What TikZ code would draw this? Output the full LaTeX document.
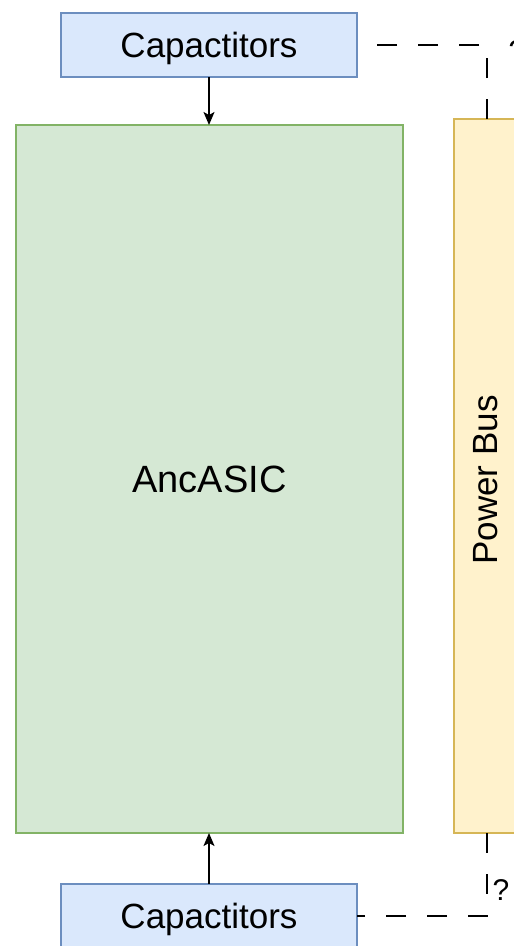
\documentclass[tikz,border=0pt]{standalone}
\usepackage{fontspec}
\setmainfont{Liberation Sans}
\usetikzlibrary{arrows.meta}
\definecolor{capfill}{HTML}{DAE8FC}
\definecolor{capline}{HTML}{6C8EBF}
\definecolor{asicfill}{HTML}{D5E8D4}
\definecolor{asicline}{HTML}{82B366}
\definecolor{busfill}{HTML}{FFF2CC}
\definecolor{busline}{HTML}{D6B656}
\tikzset{
  box/.style={draw, line width=1.3pt, inner sep=0pt, outer sep=0pt,
    font=\fontsize{35}{42}\selectfont},
  capbox/.style={box, fill=capfill, draw=capline, minimum width=296pt, minimum height=64pt,
    text depth=0pt},
  asicbox/.style={box, fill=asicfill, draw=asicline, minimum width=387pt, minimum height=708pt,
    font=\fontsize{38}{46}\selectfont},
  busbox/.style={box, fill=busfill, draw=busline, minimum width=66pt, minimum height=714pt},
  arr/.style={draw, line width=1.4pt, -{Stealth[length=13pt,width=11pt,inset=3pt]}},
  dashline/.style={draw, line width=2pt, dash pattern=on 20pt off 21pt},
  qmark/.style={font=\fontsize{30}{36}\selectfont, inner sep=0pt}
}
\begin{document}
\begin{tikzpicture}[x=1pt,y=-1pt]
  \useasboundingbox (0,0) rectangle (514,946);
  % blocks
  \node[capbox] (capT) at (209,45) {Capactitors};
  \node[asicbox] (asic) at (209.5,479) {AncASIC};
  \node[busbox] (bus) at (487,476) {};
  \node[rotate=90, font=\fontsize{35}{42}\selectfont, inner sep=0pt] (bustext) at (486,480) {Power Bus};
  \node[capbox] (capB) at (209,916) {Capactitors};
  % decoupling feed into the ASIC
  \draw[arr] (capT.south) -- (capT.south |- asic.north);
  \draw[arr] (capB.north) -- (capB.north |- asic.south);
  % uncertain links between the power bus and the capacitors
  \draw[dashline] (bus.north) |- (capT.east);
  \draw[dashline] (bus.south) |- (capB.east);
  \node[qmark] (qT) at (517,51) {?};
  \node[qmark] (qB) at (501,890) {?};
\end{tikzpicture}
\end{document}
